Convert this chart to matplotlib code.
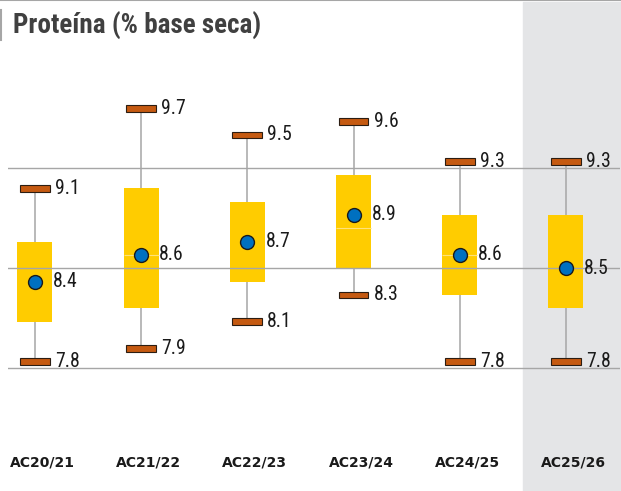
import matplotlib.pyplot as plt
from matplotlib.patches import Rectangle
from matplotlib.lines import Line2D
from matplotlib.transforms import ScaledTranslation


cats = ["AC20/21", "AC21/22", "AC22/23", "AC23/24", "AC24/25", "AC25/26"]
mins = [7.8, 7.9, 8.1, 8.3, 7.8, 7.8]
maxs = [9.1, 9.7, 9.5, 9.6, 9.3, 9.3]
q1 = [8.1, 8.2, 8.4, 8.5, 8.3, 8.2]
q3 = [8.7, 9.1, 9.0, 9.2, 8.9, 8.9]
means = [8.4, 8.6, 8.7, 8.9, 8.6, 8.5]
medians = [None, 8.6, None, 8.8, 8.6, None]
grid_vals = [7.75, 8.5, 9.25]

narrow = ["Roboto Condensed", "Archivo Narrow", "DejaVu Sans"]

fig = plt.figure(figsize=(6.21, 4.91), dpi=100)
ax = fig.add_axes([8 / 621, 36 / 491, 612 / 621, 400 / 491])
ax.set_facecolor("none")

# shaded current season + frame lines
fig.patches.append(Rectangle((522.7 / 621, 0), 1 - 522.7 / 621, 489 / 491,
                             transform=fig.transFigure, color="#E4E5E7", zorder=-1))
fig.lines.append(Line2D([0, 1], [0.999, 0.999], transform=fig.transFigure,
                        color="#A6A6A6", lw=1.5))
fig.lines.append(Line2D([1.2 / 621, 1.2 / 621], [1 - 10 / 491, 1 - 40 / 491],
                        transform=fig.transFigure, color="#A6A6A6", lw=1.5))

x = list(range(len(cats)))

# whiskers
ax.vlines(x, mins, maxs, color="#A6A6A6", lw=1.1, zorder=0.5)
# boxes
ax.bar(x, [b - a for a, b in zip(q1, q3)], bottom=q1, width=0.33,
       color="#FFCC00", lw=0, zorder=1)
for xi, m in zip(x, medians):
    if m is not None:
        ax.hlines(m, xi - 0.165, xi + 0.165, color="#FFE27A", lw=0.8, zorder=1.5)
# caps
for vals in (mins, maxs):
    ax.bar(x, 0.05, bottom=[v - 0.025 for v in vals], width=0.28,
           color="#C55A11", edgecolor="#2B1D12", lw=0.8, zorder=3)
    for xi, v in zip(x, vals):
        ax.annotate(f"{v:.1f}", (xi, v), xytext=(14.4, 0), textcoords="offset points",
                    va="center", ha="left", fontsize=14.2, family=narrow,
                    color="#1A1A1A", zorder=5)
# means
ax.plot(x, means, "o", ms=10, mfc="#0070C0", mec="#1A1A1A", mew=1, zorder=4)
for xi, v in zip(x, means):
    ax.annotate(f"{v:.1f}", (xi, v), xytext=(13, 0), textcoords="offset points",
                va="center", ha="left", fontsize=14.2, family=narrow,
                color="#1A1A1A", zorder=5)

ax.set_xlim(-0.254, 5.509)
ax.set_ylim(7.1, 10.1)
ax.set_yticks(grid_vals)
ax.set_yticklabels([])
ax.yaxis.grid(True, color="#A6A6A6", lw=1.0, zorder=2.5)
ax.set_axisbelow(False)
ax.set_xticks(x)
ax.set_xticklabels(cats, fontsize=10, fontweight="bold", color="#1A1A1A")
ax.tick_params(length=0, pad=0)
for lab in ax.get_xticklabels():
    lab.set_transform(lab.get_transform() + ScaledTranslation(0.075, 0, fig.dpi_scale_trans))
for s in ax.spines.values():
    s.set_visible(False)

fig.text(13 / 621, 1 - 34 / 491, "Proteína (% base seca)", fontsize=19.5,
         fontweight="bold", family=narrow, color="#404040", va="baseline")

plt.savefig("out.png", dpi=100)
